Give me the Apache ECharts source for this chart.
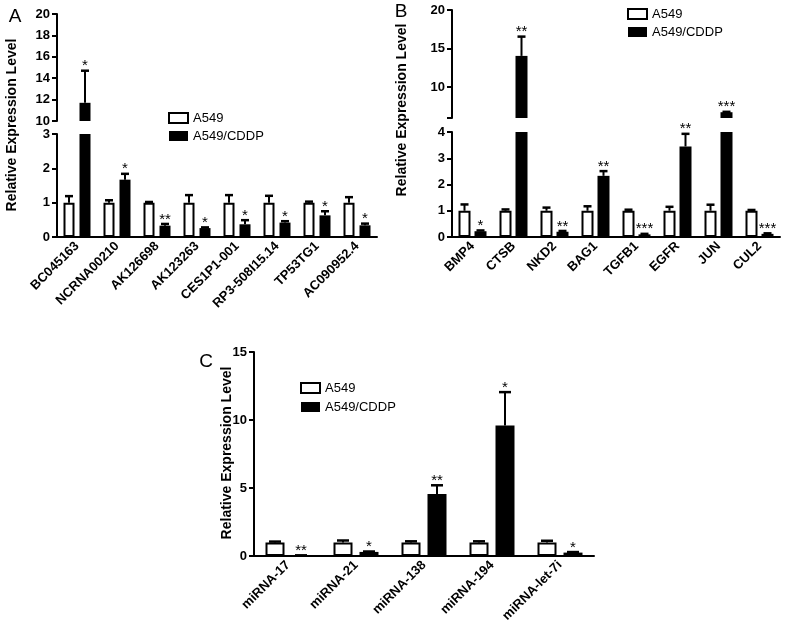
<!DOCTYPE html>
<html>
<head>
<meta charset="utf-8">
<script src="https://cdn.jsdelivr.net/npm/echarts@6/dist/echarts.min.js"></script>
<style>
  html, body { margin: 0; padding: 0; background: #fff; }
  #chart { width: 787px; height: 626px; }
</style>
</head>
<body>
<div id="chart"></div>
<script>
// panel A - lncRNAs
var catA = ['BC045163', 'NCRNA00210', 'AK126698', 'AK123263', 'CES1P1-001', 'RP3-508I15.14', 'TP53TG1', 'AC090952.4'];
var a549A = [1, 1, 1, 1, 1, 1, 1, 1];
var a549ErrA = [0.19, 0.07, 0.02, 0.22, 0.22, 0.2, 0.03, 0.16];
var cddpA = [11.7, 1.67, 0.33, 0.26, 0.37, 0.42, 0.63, 0.34];
var cddpErrA = [3.0, 0.17, 0.05, 0.02, 0.12, 0.04, 0.12, 0.05];
var sigA = ['*', '*', '**', '*', '*', '*', '*', '*'];

// panel B - mRNAs
var catB = ['BMP4', 'CTSB', 'NKD2', 'BAG1', 'TGFB1', 'EGFR', 'JUN', 'CUL2'];
var a549B = [1, 1, 1, 1, 1, 1, 1, 1];
var a549ErrB = [0.24, 0.05, 0.12, 0.17, 0.04, 0.15, 0.23, 0.03];
var cddpB = [0.22, 14.05, 0.2, 2.33, 0.1, 3.45, 6.75, 0.12];
var cddpErrB = [0.03, 2.5, 0.03, 0.18, 0.02, 0.48, 0.05, 0.02];
var sigB = ['*', '**', '**', '**', '***', '**', '***', '***'];

// panel C - miRNAs
var catC = ['miRNA-17', 'miRNA-21', 'miRNA-138', 'miRNA-194', 'miRNA-let-7i'];
var a549C = [1, 1, 1, 1, 1];
var a549ErrC = [0.06, 0.14, 0.08, 0.08, 0.12];
var cddpC = [0.04, 0.3, 4.55, 9.6, 0.25];
var cddpErrC = [0.01, 0.03, 0.65, 2.45, 0.04];
var sigC = ['**', '*', '**', '*', '*'];

// y tick values
var ticksAUp = [10, 12, 14, 16, 18, 20];
var ticksALo = [0, 1, 2, 3];
var ticksBUp = [6, 10, 15, 20];
var labelsBUp = [10, 15, 20];
var ticksBLo = [0, 1, 2, 3, 4];
var ticksC = [0, 5, 10, 15];

var FONT = '"Liberation Sans", Arial, sans-serif';

var chart = echarts.init(document.getElementById('chart'));

var grid = [], xAxis = [], yAxis = [], series = [];

function addGrid(left, top, width, height) {
    grid.push({ left: left, top: top, width: width, height: height, containLabel: false, outerBoundsMode: 'none' });
    return grid.length - 1;
}

function addXAxis(gi, cats, show) {
    xAxis.push({
        type: 'category', gridIndex: gi, data: cats, show: show,
        axisLine: { lineStyle: { color: '#000', width: 2 } },
        axisTick: { alignWithLabel: true, length: 5, lineStyle: { color: '#000', width: 2 } },
        axisLabel: { rotate: 45, interval: 0, color: '#000', fontSize: 13, fontWeight: 'bold', fontFamily: FONT, margin: 7 }
    });
}

function addYAxis(gi, ticks, labels) {
    yAxis.push({
        type: 'value', gridIndex: gi,
        min: ticks[0], max: ticks[ticks.length - 1],
        axisLine: { show: true, lineStyle: { color: '#000', width: 2 } },
        axisTick: { show: true, length: 5, lineStyle: { color: '#000', width: 2 }, customValues: ticks },
        axisLabel: { color: '#000', fontSize: 13, fontWeight: 'bold', fontFamily: FONT, margin: 7, customValues: labels || ticks },
        splitLine: { show: false }
    });
}

function errRender(offset, barW, sig) {
    return function (params, api) {
        var i = api.value(0), v = api.value(1), e = api.value(2);
        var p0 = api.coord([i, v]);
        var p1 = api.coord([i, v + e]);
        var x = p0[0] + offset;
        var half = Math.round(barW * 0.33);
        var kids = [];
        if (e > 0) {
            kids.push({ type: 'line', shape: { x1: x, y1: p0[1], x2: x, y2: p1[1] }, style: { stroke: '#000', lineWidth: 2 } });
            kids.push({ type: 'line', shape: { x1: x - half, y1: p1[1], x2: x + half, y2: p1[1] }, style: { stroke: '#000', lineWidth: 2.5 } });
        }
        if (sig) {
            kids.push({
                type: 'text',
                style: { text: sig[i], x: x, y: p1[1] - 12, align: 'center', verticalAlign: 'top', font: '15px ' + FONT, fill: '#000' }
            });
        }
        return { type: 'group', children: kids };
    };
}

// one axis segment of a panel (broken axes are drawn as stacked grids)
function addSegment(gi, lo, hi, isTop, p) {
    var gapPct = (p.gap / p.barW * 100) + '%';
    var off = (p.barW + p.gap) / 2;
    var barVals = function (arr) { return arr.map(function (v) { return (isTop && v <= lo) ? '-' : v; }); };
    var errVals = function (vals, errs) {
        var out = [];
        vals.forEach(function (v, i) {
            if (isTop ? v > lo : v <= hi) out.push([i, v, errs[i]]);
        });
        return out;
    };
    series.push({
        name: 'A549', type: 'bar', xAxisIndex: gi, yAxisIndex: gi, clip: true,
        barWidth: p.barW, barGap: gapPct,
        itemStyle: { color: '#fff', borderColor: '#000', borderWidth: 2 },
        data: barVals(p.white)
    });
    series.push({
        name: 'A549/CDDP', type: 'bar', xAxisIndex: gi, yAxisIndex: gi, clip: true,
        barWidth: p.barW, barGap: gapPct,
        itemStyle: { color: '#000' },
        data: barVals(p.black)
    });
    series.push({
        type: 'custom', xAxisIndex: gi, yAxisIndex: gi, z: 3, encode: { x: 0, y: 1 },
        renderItem: errRender(-off, p.barW, null),
        data: errVals(p.white, p.whiteErr)
    });
    series.push({
        type: 'custom', xAxisIndex: gi, yAxisIndex: gi, z: 3, encode: { x: 0, y: 1 },
        renderItem: errRender(off, p.barW, p.sig),
        data: errVals(p.black, p.blackErr)
    });
}

var panelA = { white: a549A, whiteErr: a549ErrA, black: cddpA, blackErr: cddpErrA, sig: sigA, barW: 11, gap: 5 };
var panelB = { white: a549B, whiteErr: a549ErrB, black: cddpB, blackErr: cddpErrB, sig: sigB, barW: 12, gap: 4 };
var panelC = { white: a549C, whiteErr: a549ErrC, black: cddpC, blackErr: cddpErrC, sig: sigC, barW: 19, gap: 7 };

// A
var g = addGrid(57, 14, 320, 107);
addXAxis(g, catA, false); addYAxis(g, ticksAUp); addSegment(g, 10, 20, true, panelA);
g = addGrid(57, 134, 320, 103);
addXAxis(g, catA, true); addYAxis(g, ticksALo); addSegment(g, 0, 3, false, panelA);
// B
g = addGrid(452, 10, 328, 108);
addXAxis(g, catB, false); addYAxis(g, ticksBUp, labelsBUp); addSegment(g, 6, 20, true, panelB);
g = addGrid(452, 132, 328, 105);
addXAxis(g, catB, true); addYAxis(g, ticksBLo); addSegment(g, 0, 4, false, panelB);
// C
g = addGrid(254, 352, 340, 204);
addXAxis(g, catC, true); addYAxis(g, ticksC); addSegment(g, 0, 15, false, panelC);

function legendAt(left, top, gap) {
    return {
        orient: 'vertical', left: left, top: top, itemGap: gap,
        itemWidth: 19, itemHeight: 10, icon: 'rect',
        data: ['A549', 'A549/CDDP'], selectedMode: false,
        textStyle: { color: '#000', fontSize: 13, fontFamily: FONT, lineHeight: 14 }
    };
}

function yName(x, y) {
    return {
        type: 'text', x: x, y: y, rotation: Math.PI / 2,
        style: { text: 'Relative Expression Level', font: 'bold 14px ' + FONT, fill: '#000', align: 'center', verticalAlign: 'middle' }
    };
}

function letter(t, x, y) {
    return {
        type: 'text', x: x, y: y,
        style: { text: t, font: '19px ' + FONT, fill: '#000', align: 'center', verticalAlign: 'middle' }
    };
}

var option = {
    animation: false,
    backgroundColor: '#fff',
    grid: grid,
    xAxis: xAxis,
    yAxis: yAxis,
    legend: [legendAt(163, 106, 4), legendAt(622, 2, 4), legendAt(295, 376, 5)],
    graphic: [
        yName(12, 125), yName(402, 110), yName(227, 453),
        letter('A', 15, 17), letter('B', 401, 12), letter('C', 206, 362)
    ],
    series: series
};

chart.setOption(option);
</script>
</body>
</html>
